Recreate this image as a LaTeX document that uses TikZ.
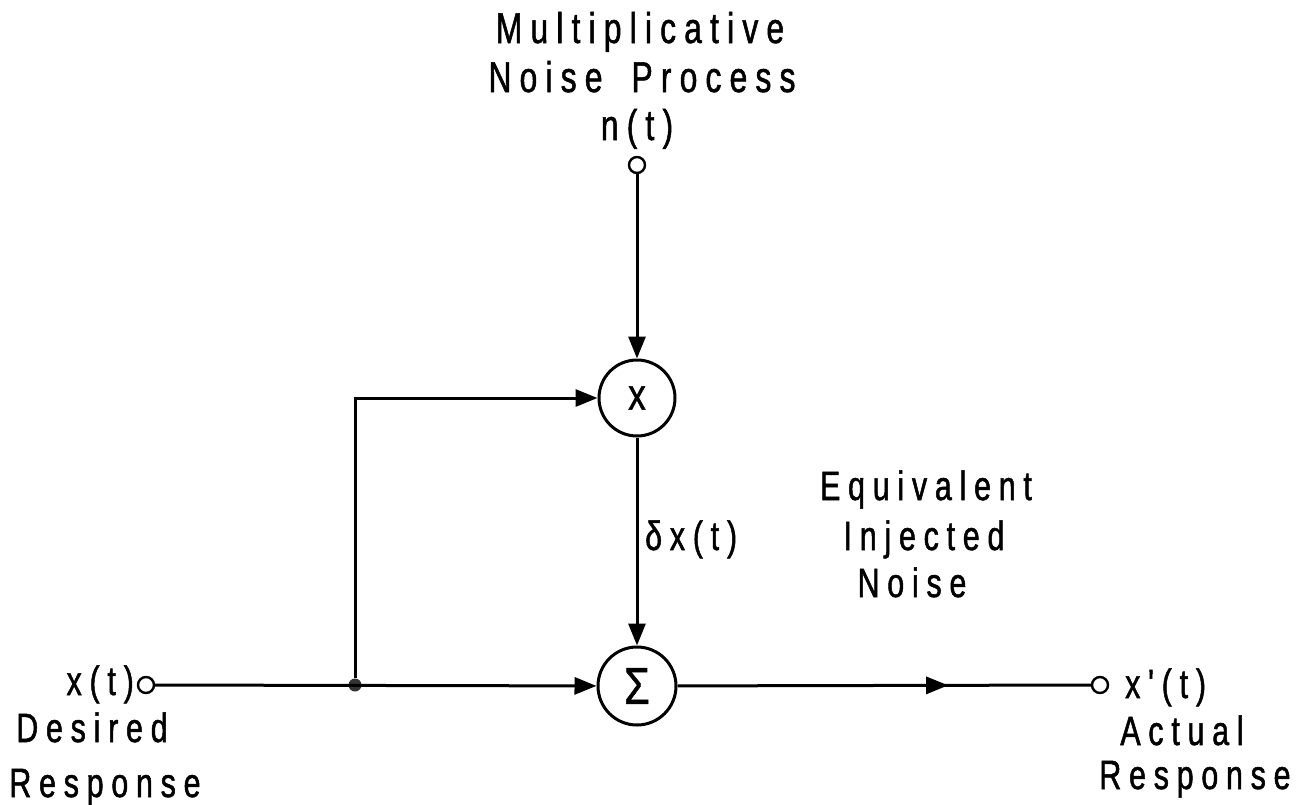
\documentclass[tikz,border=0pt]{standalone}
\usepackage{fontspec}
\usetikzlibrary{arrows.meta,decorations.markings}
\newfontfamily\lblfont[FakeStretch=0.74,LetterSpace=19,FakeBold=1.2]{Liberation Sans}
\newfontfamily\symfont[FakeStretch=0.8,FakeBold=1]{Liberation Sans}
\begin{document}
\begin{tikzpicture}[x=1pt,y=-1pt,
  lbl/.style={font=\lblfont\fontsize{41}{49}\selectfont, inner sep=0pt, anchor=base},
  toplbl/.style={font=\lblfont\fontsize{43}{51}\selectfont, inner sep=0pt, anchor=base},
  opbox/.style={draw, circle, line width=3pt, minimum size=76pt, inner sep=0pt},
  term/.style={draw, circle, line width=2.4pt, minimum size=16pt, inner sep=0pt},
  wire/.style={line width=3pt},
  arr/.style={wire, -{Triangle[length=22pt,width=17pt]}},
  midarr/.style={wire, postaction={decorate}, decoration={markings,
     mark=at position 0.655 with {\arrow{Triangle[length=22pt,width=17pt]}}}}]
\useasboundingbox (0,0) rectangle (1302,804);

% nodes
\node[term] (nin) at (637,165) {};
\node[opbox] (mult) at (637,398) {\symfont\fontsize{44}{48}\selectfont x};
\node[opbox, minimum size=78pt] (sum) at (637,686) {\symfont\fontsize{52}{56}\selectfont Σ};
\node[term] (in) at (146,685) {};
\node[term] (out) at (1100,685) {};
\node[circle, fill=black!80, minimum size=13pt, inner sep=0pt] (jn) at (355,685) {};

% connectors
\draw[arr] (nin) -- (mult);
\draw[arr] (mult) -- (sum);
\draw[arr] (in) -- (sum);
\draw[arr] (jn) |- (mult);
\draw[midarr] (sum) -- (out);

% labels
\node[toplbl] (t1) at (640,43) {Multiplicative};
\node[toplbl] (t2) at (642,92) {Noise\hspace{12pt} Process};
\node[toplbl] (t3) at (637,140) {n(t)};

\node[lbl, anchor=base east] (xt) at (134,695) {x(t)};
\node[lbl] (d1) at (92,742) {Desired};
\node[lbl] (d2) at (105,797) {Response};

\node[lbl, anchor=base west] (xpt) at (1125,698) {x'(t)};
\node[lbl] (a1) at (1182,745) {Actual};
\node[lbl] (a2) at (1195,789) {Response};

\node[lbl, anchor=base west] (dx) at (645,550) {δx(t)};
\node[lbl] (e1) at (926,500) {Equivalent};
\node[lbl] (e2) at (924,550) {Injected};
\node[lbl] (e3) at (912,597) {Noise};
\end{tikzpicture}
\end{document}
